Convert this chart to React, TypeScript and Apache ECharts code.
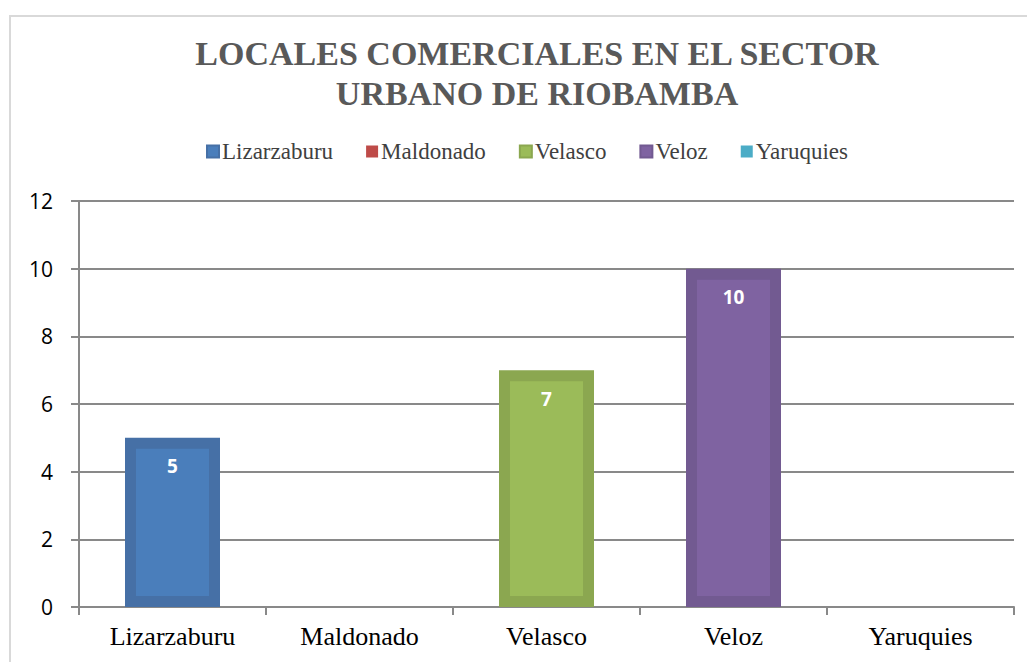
import React, { useEffect, useRef } from "react";
import * as echarts from "echarts";

const categories = ["Lizarzaburu", "Maldonado", "Velasco", "Veloz", "Yaruquies"];
const seriesNames = ["Lizarzaburu", "Maldonado", "Velasco", "Veloz", "Yaruquies"];
const values = [5, 0, 7, 10, 0];
const fillColors = ["#4a7ebb", "#be4b48", "#9bbb59", "#7f63a1", "#4bacc6"];
const borderColors = ["#4670a6", "#a84340", "#8ba750", "#725a91", "#4399b0"];
const yTicks = { min: 0, max: 12, interval: 2 };
const titleText = "LOCALES COMERCIALES EN EL SECTOR\nURBANO DE RIOBAMBA";

export default function App() {
  const ref = useRef<HTMLDivElement>(null);
  useEffect(() => {
    if (!ref.current) return;
    const chart = echarts.init(ref.current, undefined, { renderer: "svg" });
    const series = seriesNames.map((name, i) => ({
      name,
      type: "bar",
      stack: "all",
      barWidth: 95,
      data: categories.map((_, j) => (j === i ? values[i] : null)),
      itemStyle: {
        color: fillColors[i],
        borderColor: borderColors[i],
        borderWidth: values[i] > 0 ? 11 : 0,
      },
      label: {
        show: values[i] > 0,
        position: "insideTop",
        distance: 19,
        color: "#ffffff",
        fontWeight: "bold",
        fontSize: 19,
        fontFamily: "Open Sans",
      },
    }));
    chart.setOption({
      animation: false,
      backgroundColor: "#ffffff",
      title: {
        text: titleText,
        left: 537,
        top: 33,
        padding: 0,
        textAlign: "center",
        textStyle: {
          fontFamily: "Liberation Serif",
          fontWeight: "bold",
          fontSize: 34,
          color: "#595959",
          lineHeight: 40,
        },
      },
      legend: {
        data: seriesNames,
        left: 201,
        top: 135,
        icon: "rect",
        itemWidth: 12,
        itemHeight: 12,
        itemGap: 33,
        textStyle: {
          fontFamily: "Liberation Serif",
          fontSize: 23,
          color: "#404040",
          padding: [0, 0, 0, -2],
        },
      },
      grid: { left: 79, right: 13, top: 201, bottom: 55 },
      xAxis: {
        type: "category",
        data: categories,
        axisLine: { lineStyle: { color: "#898989", width: 2 } },
        axisTick: { show: true, length: 8, lineStyle: { color: "#898989", width: 2 } },
        axisLabel: {
          fontFamily: "Liberation Serif",
          fontSize: 26,
          color: "#000000",
          margin: 16,
        },
      },
      yAxis: {
        type: "value",
        min: yTicks.min,
        max: yTicks.max,
        interval: yTicks.interval,
        axisLine: { show: true, lineStyle: { color: "#898989", width: 2 } },
        axisTick: { show: true, length: 8, lineStyle: { color: "#898989", width: 2 } },
        splitLine: { lineStyle: { color: "#898989", width: 2 } },
        axisLabel: {
          fontFamily: "Open Sans",
          fontSize: 21,
          color: "#000000",
          margin: 26,
        },
      },
      graphic: [
        {
          type: "rect",
          shape: { x: 10, y: 16, width: 1030, height: 660 },
          style: { fill: "none", stroke: "#d9d9d9", lineWidth: 2 },
          silent: true,
        },
      ],
      series,
    });
    return () => chart.dispose();
  }, []);
  return (
    <div
      ref={ref}
      style={{ position: "fixed", left: 0, top: 0, width: 1027, height: 662 }}
    />
  );
}
